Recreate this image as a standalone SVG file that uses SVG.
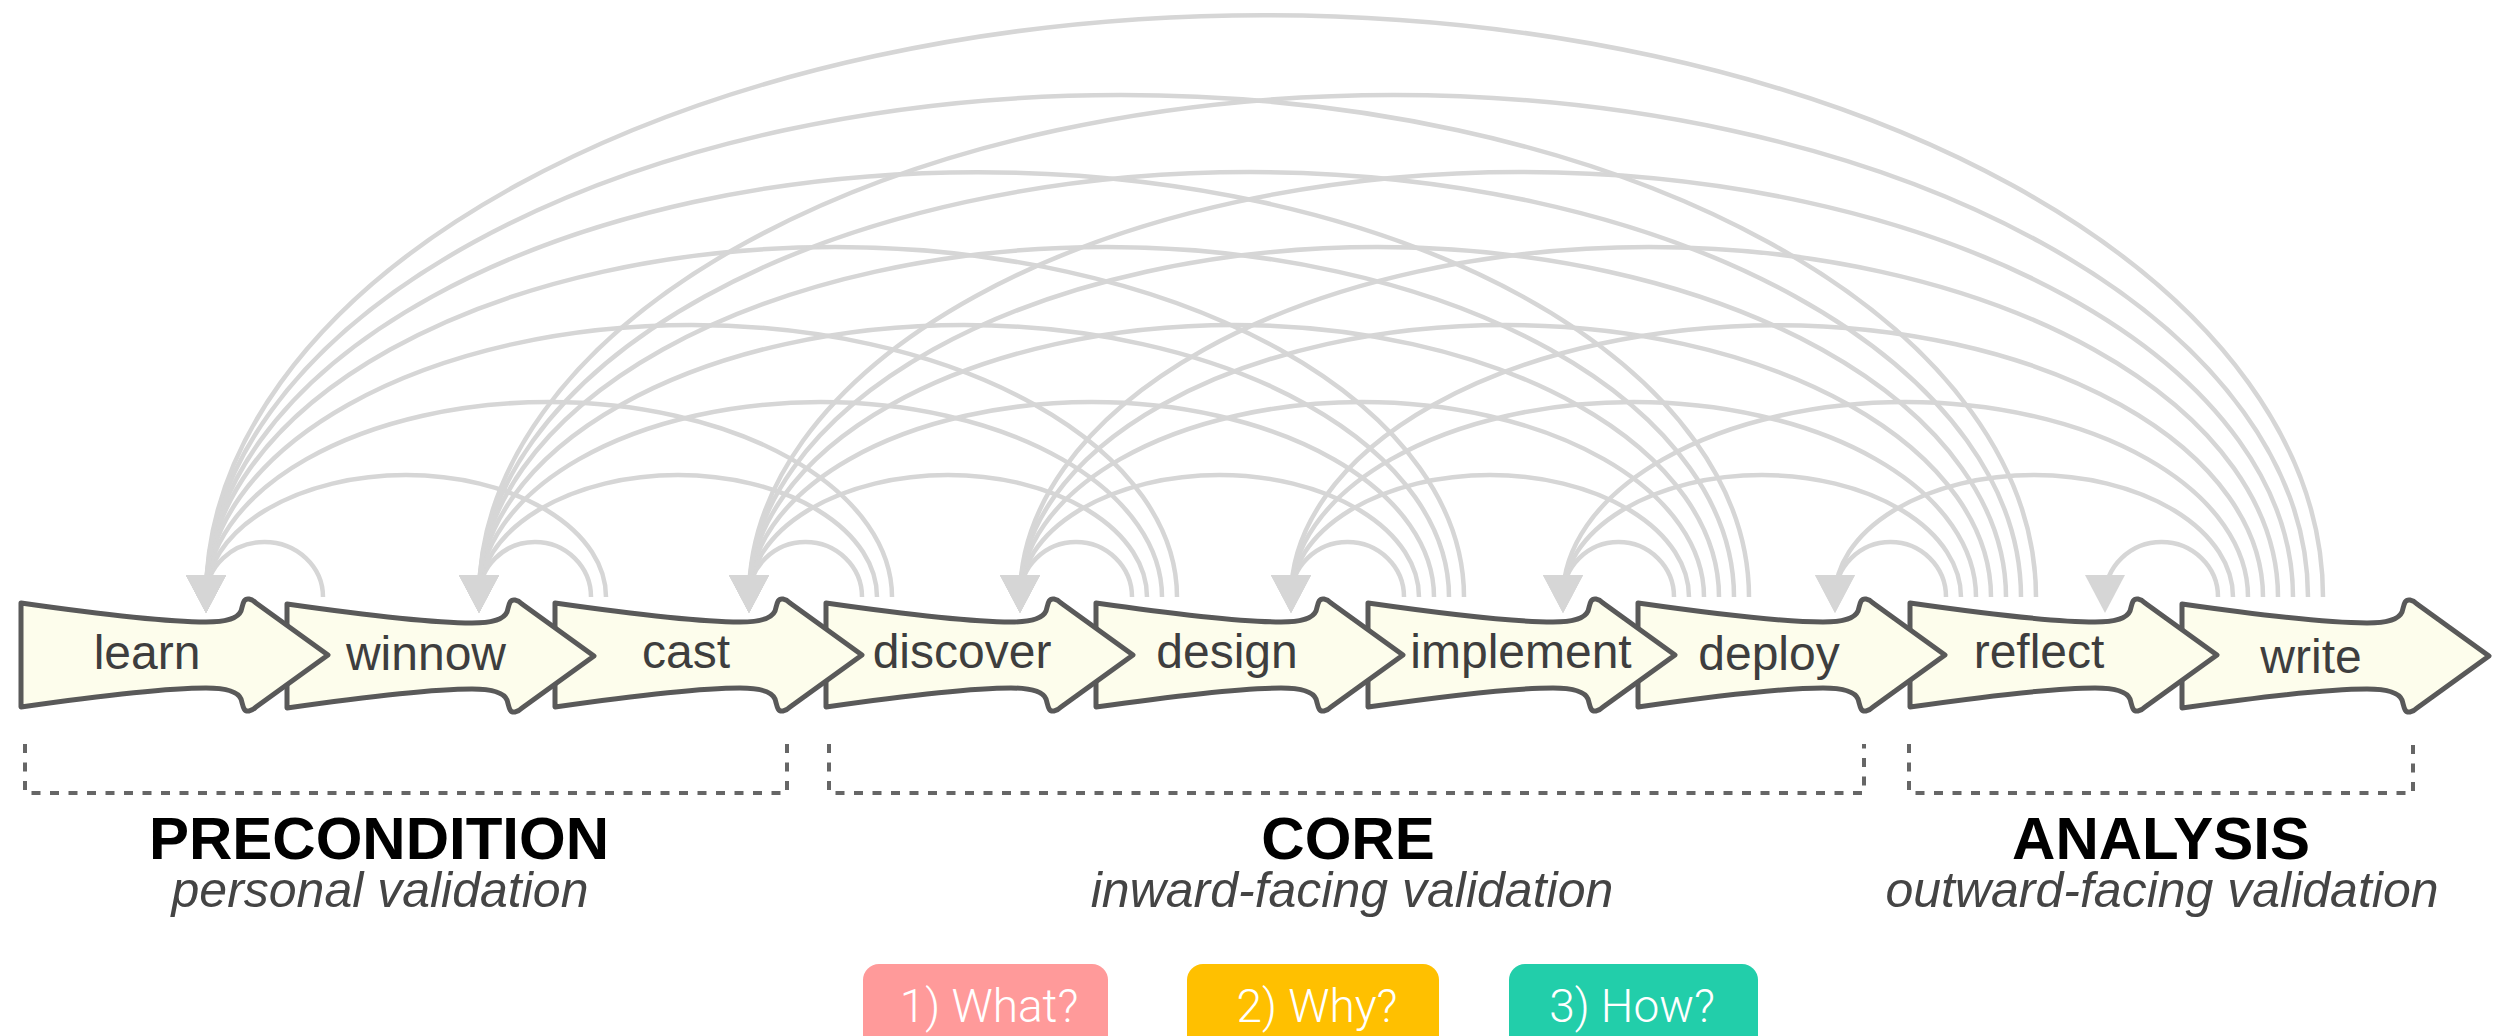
<svg xmlns="http://www.w3.org/2000/svg" width="2509" height="1036" viewBox="0 0 2509 1036">
<style>
.arc{fill:none;stroke:#d6d6d6;stroke-width:4.5;marker-end:url(#ah)}
.shape{fill:#fdfdec;stroke:#595959;stroke-width:5;stroke-linejoin:round}
.lbl{font-family:"Liberation Sans",Arial,Helvetica,sans-serif;font-size:48px;fill:#3e3e3e;text-anchor:middle}
.brk{fill:none;stroke:#666;stroke-width:4;stroke-dasharray:9 9.5}
.ttl{font-family:"Liberation Sans",Arial,Helvetica,sans-serif;font-size:60px;font-weight:bold;fill:#000;text-anchor:middle}
.sub{font-family:"Liberation Sans",Arial,Helvetica,sans-serif;font-size:50px;font-style:italic;fill:#444;text-anchor:middle}
.btn{font-family:Roboto,"Liberation Sans",sans-serif;font-weight:300;font-size:46px;fill:#fff;text-anchor:middle}
</style>
<defs>
<marker id="ah" viewBox="0 0 38 40" markerWidth="38" markerHeight="40" refX="25" refY="20" orient="auto" markerUnits="userSpaceOnUse">
<path d="M0,0 L38,20 L0,40 Z" fill="#d6d6d6"/>
</marker>
<path id="node" class="shape" d="M0,-52 C70,-42 140,-33 185,-33 C205,-33 217,-37 220,-44 C222,-50 222,-57 228,-56 C231,-55.5 233,-54 235,-52 L307,0 L235,52 C233,54 231,55.5 228,56 C222,57 222,50 220,44 C217,37 205,33 185,33 C140,33 70,42 0,52 Z"/>
</defs>

<g id="connectors">
<path class="arc" d="M323,597 A58.5,55 0 0 0 206,597 L206,600"/>
<path class="arc" d="M591,597 A56,55 0 0 0 479,597 L479,600"/>
<path class="arc" d="M606,597 A200,122 0 0 0 206,597 L206,600"/>
<path class="arc" d="M862,597 A56.5,55 0 0 0 749,597 L749,600"/>
<path class="arc" d="M877,597 A199,122 0 0 0 479,597 L479,600"/>
<path class="arc" d="M892,597 A343,195 0 0 0 206,597 L206,600"/>
<path class="arc" d="M1132,597 A56,55 0 0 0 1020,597 L1020,600"/>
<path class="arc" d="M1147,597 A199,122 0 0 0 749,597 L749,600"/>
<path class="arc" d="M1162,597 A341.5,195 0 0 0 479,597 L479,600"/>
<path class="arc" d="M1177,597 A485.5,272 0 0 0 206,597 L206,600"/>
<path class="arc" d="M1404,597 A56.5,55 0 0 0 1291,597 L1291,600"/>
<path class="arc" d="M1419,597 A199.5,122 0 0 0 1020,597 L1020,600"/>
<path class="arc" d="M1434,597 A342.5,195 0 0 0 749,597 L749,600"/>
<path class="arc" d="M1449,597 A485,272 0 0 0 479,597 L479,600"/>
<path class="arc" d="M1464,597 A629,350 0 0 0 206,597 L206,600"/>
<path class="arc" d="M1674,597 A55.5,55 0 0 0 1563,597 L1563,600"/>
<path class="arc" d="M1689,597 A199,122 0 0 0 1291,597 L1291,600"/>
<path class="arc" d="M1704,597 A342,195 0 0 0 1020,597 L1020,600"/>
<path class="arc" d="M1719,597 A485,272 0 0 0 749,597 L749,600"/>
<path class="arc" d="M1734,597 A627.5,350 0 0 0 479,597 L479,600"/>
<path class="arc" d="M1749,597 A771.5,425 0 0 0 206,597 L206,600"/>
<path class="arc" d="M1946,597 A55.5,55 0 0 0 1835,597 L1835,600"/>
<path class="arc" d="M1961,597 A199,122 0 0 0 1563,597 L1563,600"/>
<path class="arc" d="M1976,597 A342.5,195 0 0 0 1291,597 L1291,600"/>
<path class="arc" d="M1991,597 A485.5,272 0 0 0 1020,597 L1020,600"/>
<path class="arc" d="M2006,597 A628.5,350 0 0 0 749,597 L749,600"/>
<path class="arc" d="M2021,597 A771,425 0 0 0 479,597 L479,600"/>
<path class="arc" d="M2036,597 A915,502 0 0 0 206,597 L206,600"/>
<path class="arc" d="M2218,597 A56.5,55 0 0 0 2105,597 L2105,600"/>
<path class="arc" d="M2233,597 A199,122 0 0 0 1835,597 L1835,600"/>
<path class="arc" d="M2248,597 A342.5,195 0 0 0 1563,597 L1563,600"/>
<path class="arc" d="M2263,597 A486,272 0 0 0 1291,597 L1291,600"/>
<path class="arc" d="M2278,597 A629,350 0 0 0 1020,597 L1020,600"/>
<path class="arc" d="M2293,597 A772,425 0 0 0 749,597 L749,600"/>
<path class="arc" d="M2308,597 A914.5,502 0 0 0 479,597 L479,600"/>
<path class="arc" d="M2323,597 A1058.5,582 0 0 0 206,597 L206,600"/>
</g>

<g id="node-write"><use href="#node" x="2182" y="656"/><text class="lbl" x="2311" y="673">write</text></g>
<g id="node-reflect"><use href="#node" x="1910" y="655"/><text class="lbl" x="2039" y="668">reflect</text></g>
<g id="node-deploy"><use href="#node" x="1638" y="655"/><text class="lbl" x="1769" y="670">deploy</text></g>
<g id="node-implement"><use href="#node" x="1368" y="655"/><text class="lbl" x="1521" y="668">implement</text></g>
<g id="node-design"><use href="#node" x="1096" y="655"/><text class="lbl" x="1227" y="668">design</text></g>
<g id="node-discover"><use href="#node" x="826" y="655"/><text class="lbl" x="962" y="668">discover</text></g>
<g id="node-cast"><use href="#node" x="555" y="655"/><text class="lbl" x="686" y="668">cast</text></g>
<g id="node-winnow"><use href="#node" x="287" y="656"/><text class="lbl" x="426" y="670">winnow</text></g>
<g id="node-learn"><use href="#node" x="21" y="655"/><text class="lbl" x="147" y="669">learn</text></g>

<g id="phase-precondition">
<path class="brk" d="M25,744 V793 H787 V744"/>
<text class="ttl" x="379" y="859">PRECONDITION</text>
<text class="sub" x="380" y="907">personal validation</text>
</g>
<g id="phase-core">
<path class="brk" d="M829,744 V793 H1864 V744"/>
<text class="ttl" x="1348" y="859">CORE</text>
<text class="sub" x="1352" y="907">inward-facing validation</text>
</g>
<g id="phase-analysis">
<path class="brk" d="M1909,744 V793 H2413 V744"/>
<text class="ttl" x="2161" y="859">ANALYSIS</text>
<text class="sub" x="2162" y="907">outward-facing validation</text>
</g>

<g id="btn-what"><rect x="863" y="964" width="245" height="100" rx="16" fill="#ff9a9a"/><text class="btn" x="989" y="1022">1) What?</text></g>
<g id="btn-why"><rect x="1187" y="964" width="252" height="100" rx="16" fill="#ffc000"/><text class="btn" x="1317" y="1022">2) Why?</text></g>
<g id="btn-how"><rect x="1509" y="964" width="249" height="100" rx="16" fill="#22ceaa"/><text class="btn" x="1632" y="1022">3) How?</text></g>
</svg>
